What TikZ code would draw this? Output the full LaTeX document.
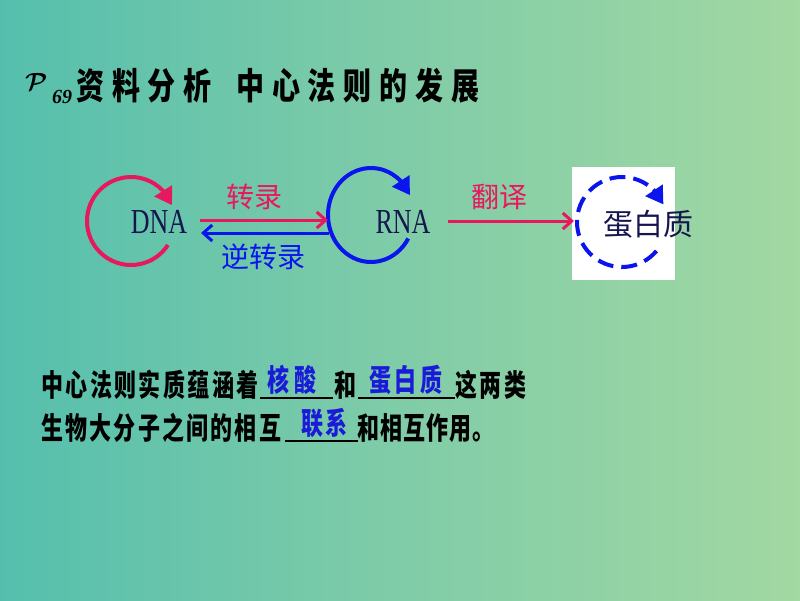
\documentclass[tikz,border=0pt]{standalone}
\usepackage{fontspec}
\usepackage{graphicx}
\setmainfont{Liberation Serif}
\newfontfamily\cjk{Noto Sans CJK SC}
\usetikzlibrary{arrows.meta,bending}
\definecolor{bgL}{HTML}{55BFAD}
\definecolor{bgM}{HTML}{80CCA8}
\definecolor{bgR}{HTML}{A2D8A2}
\definecolor{myred}{HTML}{E8185E}
\definecolor{myblue}{HTML}{0A14EC}
\definecolor{navy}{HTML}{16164F}
\definecolor{ansblue}{HTML}{1A1AD8}
\newcommand{\tallx}[1]{\scalebox{1}[1.38]{#1}}
\newcommand{\talltitle}[1]{\scalebox{1}[1.3]{#1}}
\tikzset{
  ttl/.style={anchor=west, inner sep=0pt, font=\cjk\bfseries\fontsize{28}{28}\selectfont\addfontfeatures{LetterSpace=28}},
  bl/.style={anchor=west, inner sep=0pt, font=\cjk\bfseries\fontsize{22}{22}\selectfont\addfontfeatures{LetterSpace=#1}},
  ans/.style={anchor=west, inner sep=0pt, text=ansblue, font=\cjk\bfseries\fontsize{22}{22}\selectfont\addfontfeatures{LetterSpace=#1}},
  lab/.style={inner sep=0pt, font=\cjk\fontsize{28}{28}\selectfont},
  mol/.style={inner sep=0pt, text=navy, font=\fontsize{26}{26}\selectfont},
  loopred/.style={myred, line width=4pt, -{Triangle[length=17pt,width=20pt]}},
  loopblue/.style={myblue, line width=4pt, -{Triangle[length=17pt,width=20pt]}},
  flow/.style={line width=3pt, -{Straight Barb[length=9pt,width=16pt]}},
  uline/.style={line width=1.5pt, black}
}
\begin{document}
\begin{tikzpicture}[x=1pt,y=-1pt]
\shade[left color=bgL, right color=bgR, middle color=bgM] (0,0) rectangle (800,600);
\useasboundingbox (0,0) rectangle (800,600);
\node[anchor=west, inner sep=0pt] (tP) at (25,82) {\fontsize{40}{40}\usefont{OMS}{cmsy}{b}{n}P};
\node[anchor=west, inner sep=0pt] (t69) at (52,97) {\fontsize{20}{20}\selectfont\bfseries\itshape 69};
\node[ttl] (t1) at (76,86) {\talltitle{资料分析}};
\node[ttl] (t2) at (236,86) {\talltitle{中心法则的发展}};
\node[mol] (dna) at (159,222) {\scalebox{1}[1.35]{DNA}};
\node[mol] (rna) at (403,222) {\scalebox{1}[1.35]{RNA}};
\node[fill=white, inner sep=0pt, minimum width=103pt, minimum height=113pt] (box) at (623.5,223.5) {};
\node[lab, text=navy, font=\cjk\fontsize{30}{30}\selectfont] (prot) at (648,224) {蛋白质};
\draw[loopred] (131,221) ++(33:44) arc[start angle=33, end angle=339, radius=44];
\draw[loopblue] (371,215) ++(30:43 and 47) arc[start angle=30, end angle=335, x radius=43, y radius=47];
\draw[myblue, line width=4pt, dash pattern=on 16pt off 8pt] (622,222) ++(40:45) arc[start angle=40, end angle=308, radius=45];
\draw[loopblue] (622,222) ++(314:45) arc[start angle=314, end angle=337, radius=45];
\coordinate (a1s) at (200,220);
\coordinate (a1e) at (328,220);
\coordinate (a2s) at (329,233);
\coordinate (a2e) at (201,233);
\coordinate (a3s) at (448,221);
\coordinate (a3e) at (574,221);
\draw[flow, myred] (a1s) -- (a1e);
\draw[flow, myblue] (a2s) -- (a2e);
\draw[flow, myred] (a3s) -- (a3e);
\node[lab, text=myred] (l1) at (254,197) {转录};
\node[lab, text=myblue] (l2) at (263,257) {逆转录};
\node[lab, text=myred] (l3) at (499,197) {翻译};
\node[bl=11] (b1) at (41,385) {\tallx{中心法则实质蕴涵着}};
\node[ans=23] (b2) at (267,380) {\tallx{核酸}};
\node[bl=11] (b3) at (334,385) {\tallx{和}};
\node[ans=16] (b4) at (369,380) {\tallx{蛋白质}};
\node[bl=11] (b5) at (455,385) {\tallx{这两类}};
\draw[uline] (260,398) -- (333,398);
\draw[uline] (358,398) -- (455,398);
\node[bl=10] (c1) at (41,428) {\tallx{生物大分子之间的相互}};
\node[ans=10] (c2) at (301,423) {\tallx{联系}};
\node[bl=5] (c3) at (357,428) {\tallx{和相互作用。}};
\draw[uline] (285,441) -- (358,441);
\end{tikzpicture}
\end{document}
